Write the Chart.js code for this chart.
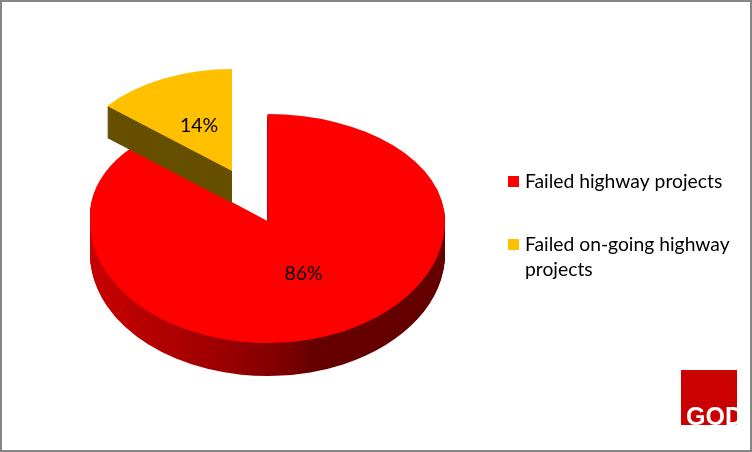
<!DOCTYPE html>
<html>
<head>
<meta charset="utf-8">
<script src="https://cdn.jsdelivr.net/npm/chart.js@4"></script>
<style>
  html, body { margin: 0; padding: 0; background: #fff; }
  #frame { position: relative; width: 752px; height: 452px; box-sizing: border-box; border: 2px solid #868686; overflow: hidden; }
  #pie { position: absolute; left: -2px; top: -2px; }
</style>
</head>
<body>
<div id="frame"><canvas id="pie" width="752" height="452"></canvas></div>
<script>
const categories = ['Failed highway projects', 'Failed on-going highway projects'];
const shares = [86, 14];
const faceColors = ['#ff0000', '#ffc000'];
const logoText = 'GOD';

const FONT = 'Lato, "Open Sans", sans-serif';
const DEPTH = 33;

// draws one arc squashed into an ellipse, apex at (cx, cy), only inside the clip box
function paintArc(ctx, arc, color, cx, cy, sx, sy, box, shear) {
    ctx.save();
    ctx.beginPath();
    ctx.rect(box[0], box[1], box[2] - box[0], box[3] - box[1]);
    ctx.clip();
    ctx.translate(cx, cy);
    ctx.transform(1, shear || 0, 0, 1, 0, 0);
    ctx.scale(sx, sy);
    ctx.translate(-arc.x, -arc.y);
    const el = Object.create(arc);
    el.options = {...arc.options, backgroundColor: color, borderWidth: 0};
    el.draw(ctx);
    ctx.restore();
}

// main slice: the back is flatter than the front and the cut edge a bit steeper (perspective)
function paintMain(ctx, arc, color, cx, cy, R) {
    const sx = 177.5 / R, syUp = 107 / R, syDown = 122 / R;
    paintArc(ctx, arc, color, cx, cy, sx, syUp, [0, 0, cx, cy], 0.033);
    paintArc(ctx, arc, color, cx, cy, sx, syUp, [cx, 0, 752, cy]);
    paintArc(ctx, arc, color, cx, cy, sx, syDown, [0, cy, 752, 452]);
}

const pie3d = {
    id: 'pie3d',
    beforeDatasetDraw(chart) {
        const ctx = chart.ctx;
        const [red, yellow] = chart.getDatasetMeta(0).data;
        const R = red.outerRadius;

        const cx = 267.5, cy = 221;
        const wall = ctx.createLinearGradient(red.x - R, 0, red.x + R, 0);
        wall.addColorStop(0, '#c80000');
        wall.addColorStop(0.35, '#a00000');
        wall.addColorStop(0.56, '#7a0000');
        wall.addColorStop(0.63, '#640000');
        wall.addColorStop(1, '#640000');
        for (let d = DEPTH; d >= 1; d--) {
            paintMain(ctx, red, wall, cx, cy + d, R);
        }
        paintMain(ctx, red, faceColors[0], cx, cy, R);

        // pulled-out slice, moved here instead of the offset option so its angle stays true
        const ysx = 162 / R, ysy = 102 / R, yx = 232, yy = 171;
        const all = [0, 0, 752, 452];
        for (let d = 32; d >= 1; d--) {
            paintArc(ctx, yellow, '#665000', yx, yy + d, ysx, ysy, all);
        }
        paintArc(ctx, yellow, faceColors[1], yx, yy, ysx, ysy, all);
        return false;
    },
    afterDraw(chart) {
        const ctx = chart.ctx;
        ctx.save();
        ctx.textBaseline = 'alphabetic';

        // value labels
        ctx.fillStyle = '#000';
        ctx.textAlign = 'center';
        ctx.font = '19.5px ' + FONT;
        ctx.fillText(shares[0] + '%', 303.5, 280);
        ctx.fillText(shares[1] + '%', 199, 132);

        // legend
        ctx.textAlign = 'left';
        ctx.font = '19.3px ' + FONT;
        ctx.fillStyle = faceColors[0];
        ctx.fillRect(508, 176, 11, 11);
        ctx.fillStyle = faceColors[1];
        ctx.fillRect(508, 239, 11, 11);
        ctx.fillStyle = '#000';
        ctx.fillText(categories[0], 525, 188);
        const words = categories[1].split(' ');
        ctx.fillText(words.slice(0, 3).join(' '), 525, 251);
        ctx.fillText(words[3], 525, 276);

        // logo
        ctx.fillStyle = '#cb0000';
        ctx.fillRect(681, 370, 56, 55);
        ctx.beginPath();
        ctx.rect(681, 370, 56, 55);
        ctx.clip();
        ctx.fillStyle = '#fff';
        ctx.font = 'bold 25px "Liberation Sans", sans-serif';
        ctx.fillText(logoText, 686, 425);
        ctx.restore();
    }
};

new Chart(document.getElementById('pie'), {
    type: 'pie',
    data: {
        labels: categories,
        datasets: [{
            data: shares,
            backgroundColor: faceColors,
            borderWidth: 0
        }]
    },
    options: {
        responsive: false,
        animation: false,
        events: [],
        plugins: {
            legend: { display: false },
            tooltip: { enabled: false }
        }
    },
    plugins: [pie3d]
});
</script>
</body>
</html>
